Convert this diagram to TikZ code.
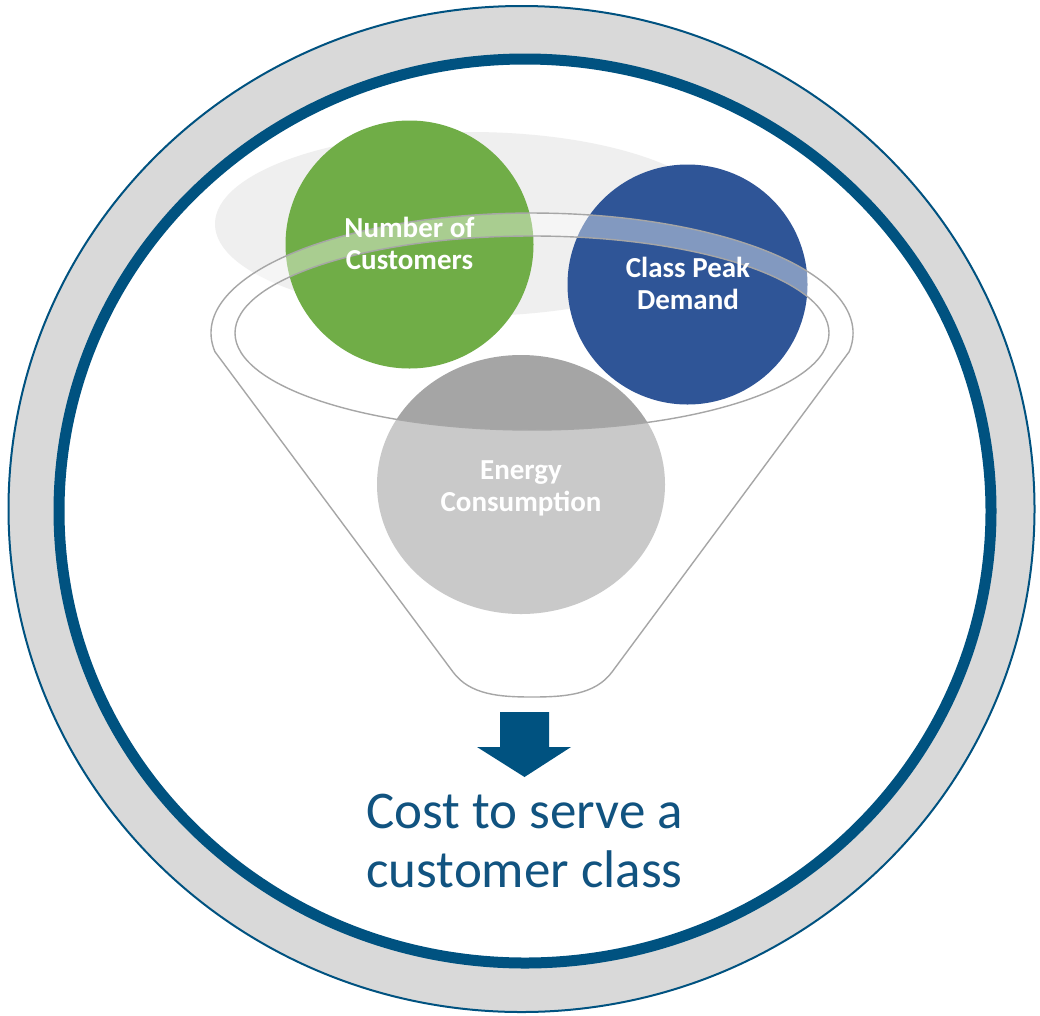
\documentclass[tikz,border=0pt]{standalone}
\usepackage{fontspec}
\setmainfont{Carlito}
\definecolor{ringblue}{RGB}{0,82,128}
\definecolor{ringgray}{RGB}{217,217,217}
\definecolor{bggray}{RGB}{239,239,239}
\definecolor{cgreen}{RGB}{112,173,71}
\definecolor{cblue}{RGB}{47,85,151}
\definecolor{cgray}{RGB}{165,165,165}
\definecolor{fline}{RGB}{166,166,166}
\definecolor{costblue}{RGB}{17,83,128}
\tikzset{
  lbl/.style={text=white, font=\bfseries\fontsize{29}{32}\selectfont, align=center, inner sep=0pt},
  funnelline/.style={draw=fline, line width=1.4pt},
}
\begin{document}
\begin{tikzpicture}[x=1pt,y=-1pt]
\useasboundingbox (0,0) rectangle (1040,1015);
\fill[white] (0,0) rectangle (1040,1015);
% rings
\draw[ringblue, line width=2pt, fill=ringgray] (521.5,509) ellipse [x radius=513, y radius=503];
\draw[ringblue, line width=11pt, fill=white] (525,511) ellipse [x radius=466, y radius=452];
% background ellipse
\fill[bggray] (470,224) ellipse [x radius=255, y radius=92];
% circles
\fill[cgreen] (409.5,244.5) circle [radius=124];
\fill[cblue] (687.5,284.5) circle [radius=120];
\fill[cgray] (521,484.5) ellipse [x radius=144, y radius=129.5];
% funnel body
\path[fill=white, fill opacity=0.4, even odd rule]
  (215,351.8) arc[start angle=171, end angle=369, x radius=321, y radius=120]
  -- (612,672) .. controls (595,695) and (564,697) .. (532,697)
  .. controls (500,697) and (470,695) .. (453,672) -- cycle
  (532,333) ellipse [x radius=297, y radius=97];
\draw[funnelline, line join=round]
  (215,351.8) arc[start angle=171, end angle=369, x radius=321, y radius=120]
  -- (612,672) .. controls (595,695) and (564,697) .. (532,697)
  .. controls (500,697) and (470,695) .. (453,672) -- cycle;
\draw[funnelline] (532,333) ellipse [x radius=297, y radius=97];
% labels
\node[lbl] (numcust) at (409.5,243) {Number of\\Customers};
\node[lbl] (peak) at (688,283) {Class Peak\\Demand};
\node[lbl] (energy) at (521,488) {Energy\\Consumption};
% arrow
\fill[ringblue] (500,712) -- (549,712) -- (549,747) -- (571,747) -- (524.5,777) -- (477,747) -- (500,747) -- cycle;
\node[text=costblue, font=\fontsize{53}{58.5}\selectfont, align=center, inner sep=0pt] (cost) at (524.5,841) {Cost to serve a\\customer class};
\end{tikzpicture}
\end{document}
